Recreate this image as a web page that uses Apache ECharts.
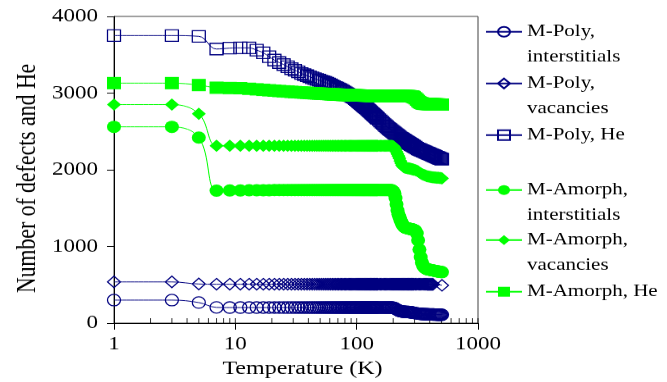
<!DOCTYPE html>
<html>
<head>
<meta charset="utf-8">
<script src="https://cdn.jsdelivr.net/npm/echarts@6/dist/echarts.min.js"></script>
<style>
  html, body { margin: 0; padding: 0; background: #fff; overflow: hidden; }
  /* the source picture is squeezed vertically, so the chart is drawn taller and scaled down */
  #chart { width: 667px; height: 466px; transform: scaleY(0.82); transform-origin: 0 0; }
</style>
</head>
<body>
<div id="chart"></div>
<script>
// temperature (K)
const temps = [
  1, 3, 5, 7, 9, 11, 13, 15, 17, 19,
  21, 23, 25, 27, 29, 31, 33, 35, 37, 39,
  41, 43, 45, 47, 49, 51, 53, 55, 57, 59,
  61, 63, 65, 67, 69, 71, 73, 75, 77, 79,
  81, 83, 85, 87, 89, 91, 93, 95, 97, 99,
  101, 103, 105, 107, 109, 111, 113, 115, 117, 119,
  121, 123, 125, 127, 129, 131, 133, 135, 137, 139,
  141, 143, 145, 147, 149,
  153, 157, 161, 165, 169, 173, 177, 181, 185, 189,
  193, 197, 201, 205, 209, 213, 217, 221, 225, 229,
  233, 237, 241, 245, 249, 253, 257, 261, 265, 269,
  273, 277, 281, 285, 289, 293, 297,
  305, 313, 321, 329, 337, 345, 353, 361, 369, 377,
  385, 393, 401, 409, 417, 425, 433, 441, 449, 457,
  465, 473, 481, 489, 497, 505
];

const polyInt = [
  300, 300, 268, 205, 203, 203, 203, 203, 203, 203,
  203, 203, 203, 203, 203, 203, 203, 203, 203, 203,
  203, 203, 203, 203, 203, 203, 203, 203, 203, 203,
  203, 203, 203, 203, 203, 203, 203, 203, 203, 203,
  203, 203, 203, 203, 203, 203, 203, 203, 203, 203,
  203, 203, 203, 203, 203, 203, 203, 203, 203, 203,
  203, 203, 203, 203, 203, 203, 203, 203, 203, 203,
  203, 203, 203, 203, 203,
  203, 203, 203, 203, 203, 203, 203, 203, 203, 203,
  203, 203, 200, 195, 188, 180, 172, 165, 160, 156,
  153, 151, 150, 149, 148, 147, 146, 145, 145, 144,
  143, 142, 141, 139, 137, 135, 133,
  130, 127, 124, 122, 120, 119, 118, 117, 116, 115,
  115, 114, 114, 113, 113, 112, 112, 111, 111, 110,
  110, 110, 110, 109, 109, 109
];

const polyVac = [
  537, 537, 510, 507, 507, 507, 507, 507, 507, 507,
  507, 507, 507, 507, 507, 507, 507, 507, 507, 507,
  507, 507, 507, 507, 507, 507, 507, 507, 507, 507,
  507, 507, 507, 507, 507, 507, 507, 507, 507, 507,
  507, 507, 507, 507, 507, 507, 507, 507, 507, 507,
  507, 507, 507, 507, 507, 507, 507, 507, 507, 507,
  507, 507, 507, 507, 507, 507, 507, 507, 507, 507,
  507, 507, 507, 507, 507,
  507, 507, 507, 507, 507, 507, 507, 507, 507, 507,
  507, 507, 507, 507, 507, 507, 507, 507, 507, 507,
  507, 507, 507, 507, 507, 507, 507, 507, 507, 507,
  507, 507, 507, 507, 507, 507, 507,
  507, 507, 507, 507, 507, 507, 507, 507, 507, 507,
  506, 506, 506, 505, 505, 505, null, null, null, null,
  null, null, null, null, null, 493
];

const polyHe = [
  3750, 3750, 3740, 3575, 3587, 3590, 3590, 3560, 3525, 3475,
  3430, 3398, 3372, 3343, 3318, 3298, 3277, 3256, 3241, 3227,
  3213, 3200, 3189, 3178, 3168, 3157, 3148, 3139, 3130, 3118,
  3107, 3095, 3085, 3074, 3064, 3054, 3045, 3035, 3024, 3014,
  3004, 2994, 2985, 2975, 2966, 2957, 2949, 2940, 2928, 2916,
  2905, 2893, 2882, 2871, 2860, 2850, 2840, 2829, 2819, 2810,
  2800, 2790, 2780, 2770, 2760, 2750, 2740, 2731, 2722, 2713,
  2704, 2695, 2686, 2677, 2669,
  2653, 2636, 2620, 2605, 2590, 2575, 2561, 2547, 2535, 2524,
  2512, 2501, 2490, 2479, 2469, 2459, 2449, 2439, 2429, 2419,
  2411, 2404, 2396, 2389, 2382, 2375, 2368, 2362, 2355, 2348,
  2342, 2336, 2329, 2323, 2317, 2311, 2305,
  2294, 2282, 2272, 2265, 2257, 2250, 2243, 2237, 2230, 2223,
  2217, 2211, 2205, 2199, 2193, 2187, 2182, 2176, 2171, 2165,
  2160, 2155, 2150, 2146, 2142, 2138
];

const amorphInt = [
  2560, 2560, 2420, 1727, 1730, 1730, 1732, 1732, 1733, 1733,
  1735, 1735, 1735, 1735, 1735, 1735, 1735, 1735, 1735, 1735,
  1735, 1735, 1735, 1735, 1735, 1735, 1735, 1735, 1735, 1735,
  1735, 1735, 1735, 1735, 1735, 1735, 1735, 1735, 1735, 1735,
  1735, 1735, 1735, 1735, 1735, 1735, 1735, 1735, 1735, 1735,
  1735, 1735, 1735, 1735, 1735, 1735, 1735, 1735, 1735, 1735,
  1735, 1735, 1735, 1735, 1735, 1735, 1735, 1735, 1735, 1735,
  1735, 1735, 1735, 1735, 1735,
  1735, 1735, 1735, 1735, 1735, 1735, 1735, 1735, 1735, 1735,
  1735, 1730, 1715, 1690, 1630, 1550, 1470, 1420, 1385, 1350,
  1320, 1295, 1275, 1260, 1250, 1245, 1240, 1238, 1235, 1232,
  1230, 1228, 1226, 1224, 1222, 1220, 1215,
  1205, 1170, 1080, 960, 860, 790, 750, 728, 715, 707,
  702, 698, 695, 692, 690, 687, 685, 682, 680, 677,
  675, 673, 670, 668, 666, 665
];

const amorphVac = [
  2850, 2850, 2730, 2312, 2312, 2312, 2312, 2312, 2312, 2312,
  2312, 2312, 2312, 2312, 2312, 2312, 2312, 2312, 2312, 2312,
  2312, 2312, 2312, 2312, 2312, 2312, 2312, 2312, 2312, 2312,
  2312, 2312, 2312, 2312, 2312, 2312, 2312, 2312, 2312, 2312,
  2312, 2312, 2312, 2312, 2312, 2312, 2312, 2312, 2312, 2312,
  2312, 2312, 2312, 2312, 2312, 2312, 2312, 2312, 2312, 2312,
  2312, 2312, 2312, 2312, 2312, 2312, 2312, 2312, 2312, 2312,
  2312, 2312, 2312, 2312, 2312,
  2312, 2312, 2312, 2312, 2312, 2312, 2312, 2312, 2312, 2312,
  2312, 2311, 2305, 2290, 2265, 2235, 2205, 2180, 2150, 2115,
  2085, 2060, 2045, 2035, 2030, 2027, 2025, 2022, 2020, 2018,
  2015, 2013, 2010, 2008, 2005, 2003, 2000,
  1995, 1988, 1978, 1966, 1955, 1945, 1937, 1930, 1924, 1918,
  1914, 1911, 1908, 1906, 1904, 1902, 1900, 1899, 1898, 1897,
  1896, 1895, 1894, 1892, 1890, 1888
];

const amorphHe = [
  3130, 3130, 3105, 3070, 3066, 3064, 3056, 3049, 3042, 3037,
  3032, 3027, 3023, 3020, 3016, 3013, 3011, 3008, 3006, 3004,
  3001, 2999, 2997, 2996, 2994, 2992, 2991, 2989, 2988, 2987,
  2985, 2984, 2983, 2982, 2981, 2980, 2979, 2977, 2976, 2976,
  2975, 2975, 2974, 2974, 2973, 2973, 2972, 2972, 2971, 2971,
  2970, 2970, 2969, 2969, 2968, 2968, 2968, 2967, 2967, 2967,
  2966, 2966, 2966, 2965, 2965, 2965, 2964, 2964, 2964, 2963,
  2963, 2963, 2962, 2962, 2962,
  2961, 2961, 2960, 2960, 2960, 2960, 2960, 2960, 2960, 2960,
  2960, 2960, 2960, 2960, 2960, 2960, 2960, 2960, 2960, 2960,
  2960, 2960, 2960, 2960, 2960, 2960, 2960, 2960, 2960, 2960,
  2959, 2958, 2957, 2956, 2954, 2950, 2944,
  2932, 2915, 2897, 2882, 2872, 2866, 2862, 2860, 2859, 2858,
  2857, 2856, 2856, 2855, 2855, 2854, 2854, 2853, 2853, 2852,
  2852, 2851, 2851, 2850, 2850, 2850
];

// x positions of the small inward ticks on the log axis
const xInnerTicks = [
  2, 3, 4, 5, 6, 7, 8, 9, 10,
  20, 30, 40, 50, 60, 70, 80, 90, 100,
  200, 300, 400, 500, 600, 700, 800, 900, 1000
];

const seriesNames = [
  'M-Poly,\ninterstitials',
  'M-Poly,\nvacancies',
  'M-Poly, He',
  'M-Amorph,\ninterstitials',
  'M-Amorph,\nvacancies',
  'M-Amorph, He'
];

const NAVY = '#000080';
const GREEN = '#00ff00';
const FONT = 'Liberation Serif';

const pairs = (vals) => temps.map((t, i) => [t, vals[i]]);

const makeLine = (name, vals, symbol, color, hollow) => ({
  name,
  type: 'line',
  data: pairs(vals),
  symbol,
  symbolSize: hollow ? [13, 14] : [14, 15],
  showSymbol: true,
  showAllSymbol: true,
  connectNulls: true,
  smooth: 0.4,
  lineStyle: { color, width: 1 },
  itemStyle: hollow
    ? { color: 'transparent', borderColor: color, borderWidth: 1.3 }
    : { color, borderWidth: 0 },
  emphasis: { disabled: true },
  animation: false,
});

// every legend text is padded to three lines so the marker sits on the name's first line
const legendTops = [-7, 56, 119, 186, 247, 310];
const padLegendText = (name) => (name.includes('\n') ? ' \n' + name : ' \n' + name + '\n ');

const chart = echarts.init(document.getElementById('chart'));

chart.setOption({
  backgroundColor: '#fff',
  animation: false,
  grid: {
    left: 114, right: 189, top: 20, bottom: 72,
    show: true, borderColor: '#404040', borderWidth: 1, backgroundColor: 'transparent',
    outerBoundsMode: 'none',
  },
  legend: legendTops.map((top, i) => ({
    data: [seriesNames[i]],
    left: 485,
    top,
    padding: 0,
    itemWidth: 36,
    itemHeight: 15,
    selectedMode: false,
    formatter: padLegendText,
    textStyle: { fontFamily: FONT, fontSize: 21, color: '#000', lineHeight: 30.5 },
  })),
  xAxis: {
    type: 'log',
    logBase: 10,
    min: 1,
    max: 1000,
    name: 'Temperature (K)',
    nameLocation: 'middle',
    nameGap: 44,
    nameTextStyle: { fontFamily: FONT, fontSize: 24, color: '#000', padding: [0, 0, 0, 13] },
    axisLine: { onZero: false, lineStyle: { color: '#000', width: 1 } },
    axisTick: { inside: false, length: 8, lineStyle: { color: '#000' } },
    axisLabel: { fontFamily: FONT, fontSize: 23, color: '#000', margin: 14, formatter: (v) => String(v) },
    splitLine: { show: false },
  },
  yAxis: {
    type: 'value',
    min: 0,
    max: 4000,
    interval: 1000,
    name: 'Number of defects and He',
    nameLocation: 'middle',
    nameGap: 67,
    nameTextStyle: { fontFamily: FONT, fontSize: 26.5, color: '#000', padding: [0, 21, 0, 0] },
    axisLine: { show: true, lineStyle: { color: '#000', width: 1 } },
    axisTick: { show: true, inside: false, length: 7, lineStyle: { color: '#000' } },
    axisLabel: { fontFamily: FONT, fontSize: 23, color: '#000', margin: 16, formatter: (v) => String(v) },
    splitLine: { show: false },
  },
  series: [
    {
      name: 'inner ticks',
      type: 'scatter',
      data: xInnerTicks.map((t) => [t, 0]),
      symbol: 'rect',
      symbolSize: [1, 6],
      symbolOffset: [0, -3],
      itemStyle: { color: '#000' },
      silent: true,
      clip: false,
      z: 1,
    },
    makeLine(seriesNames[0], polyInt, 'circle', NAVY, true),
    makeLine(seriesNames[1], polyVac, 'diamond', NAVY, true),
    makeLine(seriesNames[2], polyHe, 'rect', NAVY, true),
    makeLine(seriesNames[3], amorphInt, 'circle', GREEN, false),
    makeLine(seriesNames[4], amorphVac, 'diamond', GREEN, false),
    makeLine(seriesNames[5], amorphHe, 'rect', GREEN, false),
  ],
});
</script>
</body>
</html>
